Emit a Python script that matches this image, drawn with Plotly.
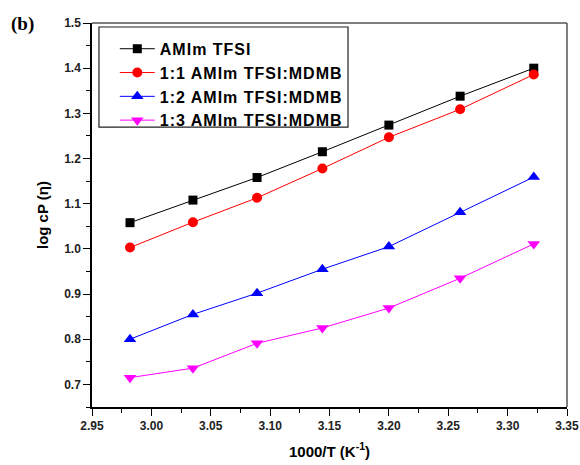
import plotly.graph_objects as go

inv_T = [2.982, 3.035, 3.089, 3.144, 3.200, 3.260, 3.322]
series_names = ["AMIm TFSI", "1:1 AMIm TFSI:MDMB", "1:2 AMIm TFSI:MDMB", "1:3 AMIm TFSI:MDMB"]
log_visc_pure = [1.058, 1.108, 1.158, 1.215, 1.274, 1.338, 1.400]
log_visc_11 = [1.003, 1.059, 1.113, 1.178, 1.247, 1.309, 1.386]
log_visc_12 = [0.800, 0.855, 0.902, 0.955, 1.005, 1.081, 1.159]
log_visc_13 = [0.715, 0.736, 0.791, 0.825, 0.869, 0.935, 1.011]

colors = ["#000000", "#ff0000", "#0000ff", "#ff00ff"]
symbols = ["square", "circle", "triangle-up", "triangle-down"]
sizes = [9, 10, 11, 11]

fig = go.Figure()
for name, ys, c, s, sz in zip(series_names,
                              [log_visc_pure, log_visc_11, log_visc_12, log_visc_13],
                              colors, symbols, sizes):
    fig.add_trace(go.Scatter(x=inv_T, y=ys, mode="lines+markers", name=name,
                             line=dict(color=c, width=1),
                             marker=dict(symbol=s, size=sz, color=c)))

tick_font = dict(family="Liberation Sans, Arial", size=12, color="#222222", weight="bold")
title_font = dict(family="Liberation Sans, Arial", size=15, color="black", weight="bold")
fig.update_layout(
    width=580, height=465,
    margin=dict(l=92, r=13, t=23, b=58),
    plot_bgcolor="white", paper_bgcolor="white",
    showlegend=True,
    legend=dict(x=0.048, y=0.977, xanchor="left", yanchor="top",
                borderwidth=0, bgcolor="rgba(0,0,0,0)",
                font=dict(family="Liberation Sans, Arial", size=16, color="black", weight="bold"),
                itemwidth=35, tracegroupgap=0),
    font=dict(family="Liberation Sans, Arial"),
)
fig.update_xaxes(range=[2.95, 3.35], tick0=2.95, dtick=0.05, tickformat=".2f",
                 showgrid=False, zeroline=False, automargin=False,
                 showline=True, linecolor="black", linewidth=1.5, mirror=False,
                 ticks="outside", ticklen=7, tickwidth=1.2, tickcolor="black",
                 minor=dict(ticks="outside", ticklen=4, dtick=0.025, tick0=2.95, tickcolor="black"),
                 tickfont=tick_font,
                 title=dict(text="1000/T (K<sup>-1</sup>)", font=title_font, standoff=14))
fig.update_yaxes(range=[0.65, 1.5], tick0=0.7, dtick=0.1, tickformat=".1f",
                 showgrid=False, zeroline=False, automargin=False,
                 showline=True, linecolor="black", linewidth=1.5, mirror=False,
                 ticks="outside", ticklen=7, tickwidth=1.2, tickcolor="black",
                 minor=dict(ticks="outside", ticklen=4, dtick=0.05, tick0=0.65, tickcolor="black"),
                 tickfont=tick_font,
                 title=dict(text="log cP (η)", font=title_font, standoff=12))
# top and right frame lines (lighter, as in the reference)
fig.add_shape(type="line", xref="paper", yref="paper", x0=0, x1=1, y0=1, y1=1,
              line=dict(color="#555555", width=1.5))
fig.add_shape(type="line", xref="paper", yref="paper", x0=1, x1=1, y0=0, y1=1,
              line=dict(color="#555555", width=1.5))
# legend frame
fig.add_shape(type="rect", xref="paper", yref="paper", x0=0.0147, x1=0.539, y0=0.729, y1=0.9896,
              line=dict(color="#222222", width=1.2))
fig.add_annotation(text="<b>(b)</b>", xref="paper", yref="paper", x=-0.175, y=1.03,
                   xanchor="left", yanchor="top", showarrow=False,
                   font=dict(family="Liberation Serif, Times New Roman", size=19, color="black"))
fig.write_html("out.html", config={"displayModeBar": False},
               post_script="document.body.style.margin='0px';document.body.style.padding='0px';"
                           "document.querySelectorAll('.legend [clip-path]').forEach(function(e){e.removeAttribute('clip-path');});"
                           "document.querySelectorAll('.legendtext').forEach(function(e){e.style.letterSpacing='1px';});")
